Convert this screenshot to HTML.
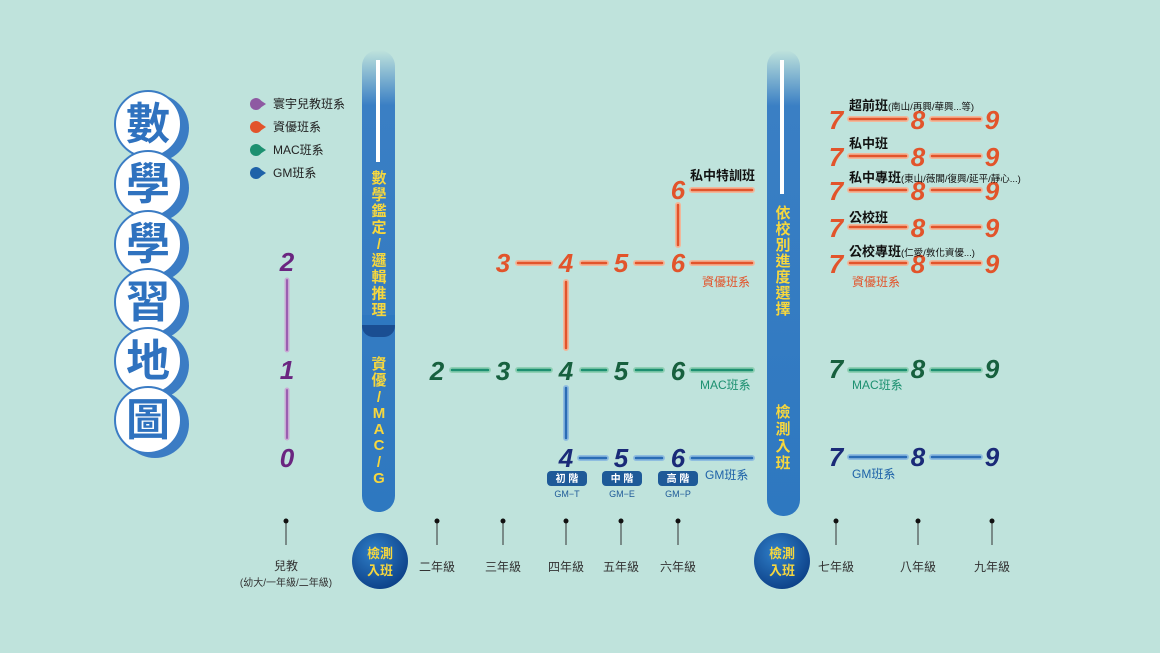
<!DOCTYPE html>
<html><head><meta charset="utf-8"><style>
html,body{margin:0;padding:0;background:#bfe3dc;}
svg{display:block;font-family:"Liberation Sans","Noto Sans CJK TC",sans-serif;}
.n{font-weight:bold;font-style:italic;font-size:26px;text-anchor:middle;}
</style></head><body>
<svg width="1160" height="653" viewBox="0 0 1160 653">
<defs>
<linearGradient id="pg" x1="0" y1="0" x2="0" y2="1">
<stop offset="0" stop-color="#bfe3dc"/><stop offset="0.12" stop-color="#3a7fc4"/><stop offset="1" stop-color="#2e78c0"/></linearGradient>
<radialGradient id="cg" cx="0.4" cy="0.35" r="0.7"><stop offset="0" stop-color="#2f7fc8"/><stop offset="1" stop-color="#0c3f86"/></radialGradient>
</defs>
<rect width="1160" height="653" fill="#bfe3dc"/>
<g>
<g fill="#3b7cc4">
<circle cx="155" cy="128" r="34"/><circle cx="155" cy="188" r="34"/><circle cx="155" cy="248" r="34"/><circle cx="155" cy="306" r="34"/><circle cx="155" cy="365" r="34"/><circle cx="155" cy="424" r="34"/></g>
<g fill="#fff" stroke="#3b7cc4" stroke-width="2">
<circle cx="148" cy="124" r="33"/><circle cx="148" cy="184" r="33"/><circle cx="148" cy="244" r="33"/><circle cx="148" cy="302" r="33"/><circle cx="148" cy="361" r="33"/><circle cx="148" cy="420" r="33"/></g>
<g fill="#2f72bf" font-size="44" font-weight="bold" text-anchor="middle">
<text x="148" y="139">數</text><text x="148" y="199">學</text><text x="148" y="259">學</text><text x="148" y="317">習</text><text x="148" y="376">地</text><text x="148" y="435">圖</text></g>
</g>
<g font-size="12" fill="#222">
<circle cx="256" cy="104" r="6" fill="#8e5aa2"/><path d="M260 100 L266 104 L260 108Z" fill="#8e5aa2"/><text x="273" y="108">寰宇兒教班系</text>
<circle cx="256" cy="127" r="6" fill="#e2542b"/><path d="M260 123 L266 127 L260 131Z" fill="#e2542b"/><text x="273" y="131">資優班系</text>
<circle cx="256" cy="150" r="6" fill="#1c9070"/><path d="M260 146 L266 150 L260 154Z" fill="#1c9070"/><text x="273" y="154">MAC班系</text>
<circle cx="256" cy="173" r="6" fill="#1e62a8"/><path d="M260 169 L266 173 L260 177Z" fill="#1e62a8"/><text x="273" y="177">GM班系</text>
</g>
<rect x="362" y="50" width="33" height="462" rx="16" fill="url(#pg)"/>
<rect x="362" y="315" width="33" height="22" rx="11" fill="#1a4e92"/>
<rect x="362" y="315" width="33" height="10" fill="#2e78c0"/>
<rect x="376" y="60" width="4" height="102" fill="#fff"/>
<rect x="767" y="50" width="33" height="466" rx="16" fill="url(#pg)"/>
<rect x="780" y="60" width="4" height="134" fill="#fff"/>
<g fill="#f6d73e" font-size="15" font-weight="bold" text-anchor="middle">
<text x="379" y="183">數</text><text x="379" y="199.5">學</text><text x="379" y="216">鑑</text><text x="379" y="232.5">定</text><text x="379" y="249">/</text><text x="379" y="265.5">邏</text><text x="379" y="282">輯</text><text x="379" y="298.5">推</text><text x="379" y="315">理</text>
<text x="379" y="369">資</text><text x="379" y="385">優</text><text x="379" y="402">/</text><text x="379" y="418">M</text><text x="379" y="434">A</text><text x="379" y="450">C</text><text x="379" y="467">/</text><text x="379" y="483">G</text>
<text x="783" y="218">依</text><text x="783" y="234">校</text><text x="783" y="250">別</text><text x="783" y="266">進</text><text x="783" y="282">度</text><text x="783" y="298">選</text><text x="783" y="314">擇</text>
<text x="783" y="417">檢</text><text x="783" y="434">測</text><text x="783" y="451">入</text><text x="783" y="468">班</text>
</g>
<g stroke-linecap="round" fill="none">
<g stroke="#c9a8d4" stroke-width="5"><path d="M287 280V350M287 390V438"/></g>
<g stroke="#9a5fb0" stroke-width="2"><path d="M287 280V350M287 390V438"/></g>
<g stroke="#f2b79a" stroke-width="6"><path d="M518 263H550M582 263H606M636 263H662M692 263H752M692 190H752M678 205V245M566 282V348M850 119H906M932 119H980M850 156H906M932 156H980M850 190H906M932 190H980M850 227H906M932 227H980M850 263H906M932 263H980"/></g>
<g stroke="#e2542b" stroke-width="2.5"><path d="M518 263H550M582 263H606M636 263H662M692 263H752M692 190H752M678 205V245M566 282V348M850 119H906M932 119H980M850 156H906M932 156H980M850 190H906M932 190H980M850 227H906M932 227H980M850 263H906M932 263H980"/></g>
<g stroke="#8fd0b4" stroke-width="6"><path d="M452 370H488M518 370H550M582 370H606M636 370H662M692 370H752M850 370H906M932 370H980"/></g>
<g stroke="#1c9070" stroke-width="2.5"><path d="M452 370H488M518 370H550M582 370H606M636 370H662M692 370H752M850 370H906M932 370H980"/></g>
<g stroke="#8fbde0" stroke-width="6"><path d="M566 388V438M580 458H606M636 458H662M692 458H752M850 457H906M932 457H980"/></g>
<g stroke="#2a6cb5" stroke-width="2.5"><path d="M566 388V438M580 458H606M636 458H662M692 458H752M850 457H906M932 457H980"/></g>
</g>
<g class="n" fill="#6a2580"><text x="287" y="271">2</text><text x="287" y="379">1</text><text x="287" y="467">0</text></g>
<g class="n" fill="#e2542b"><text x="503" y="272">3</text><text x="566" y="272">4</text><text x="621" y="272">5</text><text x="678" y="272">6</text><text x="678" y="199">6</text>
<text x="836" y="129">7</text><text x="918" y="129">8</text><text x="992" y="129">9</text>
<text x="836" y="166">7</text><text x="918" y="166">8</text><text x="992" y="166">9</text>
<text x="836" y="200">7</text><text x="918" y="200">8</text><text x="992" y="200">9</text>
<text x="836" y="237">7</text><text x="918" y="237">8</text><text x="992" y="237">9</text>
<text x="836" y="273">7</text><text x="918" y="273">8</text><text x="992" y="273">9</text></g>
<g class="n" fill="#17603e"><text x="437" y="380">2</text><text x="503" y="380">3</text><text x="566" y="380">4</text><text x="621" y="380">5</text><text x="678" y="380">6</text><text x="836" y="378">7</text><text x="918" y="378">8</text><text x="992" y="378">9</text></g>
<g class="n" fill="#1a2a78"><text x="566" y="467">4</text><text x="621" y="467">5</text><text x="678" y="467">6</text><text x="836" y="466">7</text><text x="918" y="466">8</text><text x="992" y="466">9</text></g>
<g font-weight="bold" fill="#111" font-size="13">
<text x="690" y="180">私中特訓班</text>
<text x="849" y="110">超前班<tspan font-size="9.5" font-weight="normal">(南山/再興/華興...等)</tspan></text>
<text x="849" y="148">私中班</text>
<text x="849" y="182">私中專班<tspan font-size="9.5" font-weight="normal">(東山/薇閣/復興/延平/靜心...)</tspan></text>
<text x="849" y="222">公校班</text>
<text x="849" y="256">公校專班<tspan font-size="9.5" font-weight="normal">(仁愛/敦化資優...)</tspan></text>
</g>
<g font-size="12">
<text x="702" y="286" fill="#e2542b">資優班系</text><text x="852" y="286" fill="#e2542b">資優班系</text>
<text x="700" y="389" fill="#1c9070">MAC班系</text><text x="852" y="389" fill="#1c9070">MAC班系</text>
<text x="705" y="479" fill="#1e62a8">GM班系</text><text x="852" y="478" fill="#1e62a8">GM班系</text>
</g>
<g font-size="10" font-weight="bold" fill="#fff" text-anchor="middle">
<rect x="547" y="471" width="40" height="15" rx="4" fill="#1e5a98"/><text x="567" y="482">初 階</text>
<rect x="602" y="471" width="40" height="15" rx="4" fill="#1e5a98"/><text x="622" y="482">中 階</text>
<rect x="658" y="471" width="40" height="15" rx="4" fill="#1e5a98"/><text x="678" y="482">高 階</text>
</g>
<g font-size="9" fill="#1e5a98" text-anchor="middle"><text x="567" y="497">GM−T</text><text x="622" y="497">GM−E</text><text x="678" y="497">GM−P</text></g>
<g stroke="#333" stroke-width="1"><path d="M286 521V545M437 521V545M503 521V545M566 521V545M621 521V545M678 521V545M836 521V545M918 521V545M992 521V545"/></g>
<g fill="#111"><circle cx="286" cy="521" r="2.5"/><circle cx="437" cy="521" r="2.5"/><circle cx="503" cy="521" r="2.5"/><circle cx="566" cy="521" r="2.5"/><circle cx="621" cy="521" r="2.5"/><circle cx="678" cy="521" r="2.5"/><circle cx="836" cy="521" r="2.5"/><circle cx="918" cy="521" r="2.5"/><circle cx="992" cy="521" r="2.5"/></g>
<g font-size="12" fill="#333" text-anchor="middle">
<text x="286" y="570">兒教</text><text x="286" y="586" font-size="10">(幼大/一年級/二年級)</text>
<text x="437" y="571">二年級</text><text x="503" y="571">三年級</text><text x="566" y="571">四年級</text><text x="621" y="571">五年級</text><text x="678" y="571">六年級</text><text x="836" y="571">七年級</text><text x="918" y="571">八年級</text><text x="992" y="571">九年級</text>
</g>
<circle cx="380" cy="561" r="28" fill="url(#cg)"/><circle cx="782" cy="561" r="28" fill="url(#cg)"/>
<g fill="#f6d73e" font-size="13" font-weight="bold" text-anchor="middle">
<text x="380" y="558">檢測</text><text x="380" y="575">入班</text>
<text x="782" y="558">檢測</text><text x="782" y="575">入班</text></g>
</svg>
</body></html>
